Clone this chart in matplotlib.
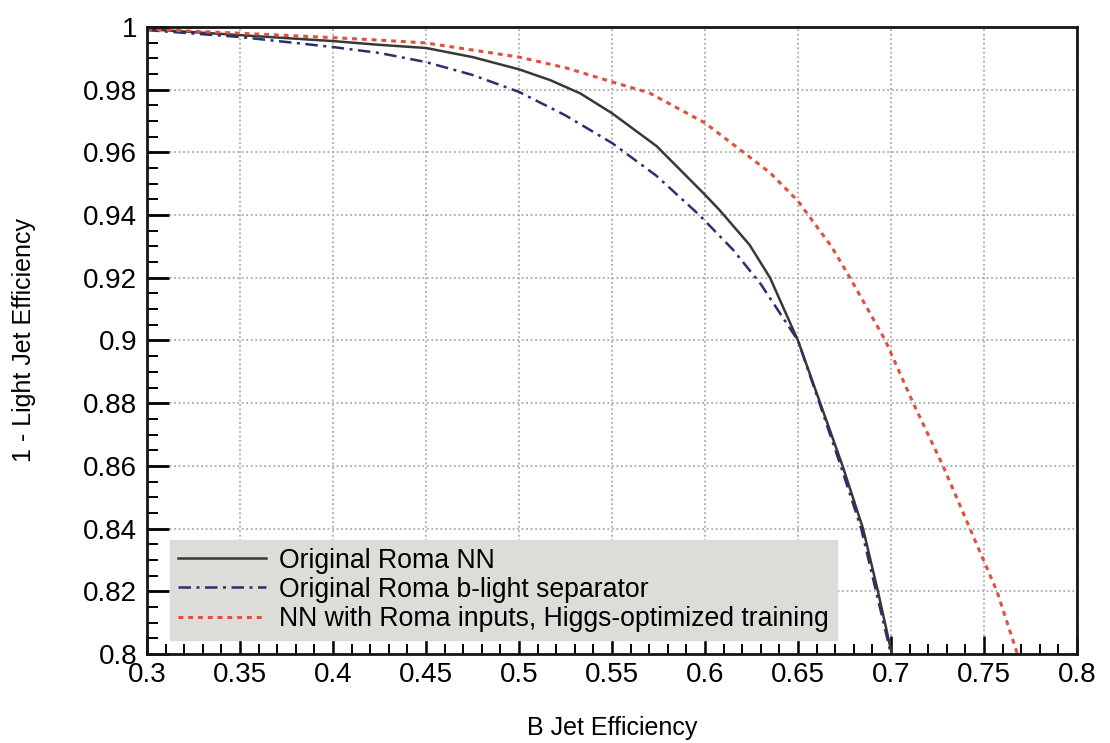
import matplotlib
matplotlib.use("Agg")
import matplotlib.pyplot as plt
from matplotlib.ticker import MultipleLocator

plt.rcParams['font.family'] = ['Liberation Sans', 'DejaVu Sans']

# Original Roma NN (solid black)
nn_x = [0.30, 0.35, 0.40, 0.425, 0.45, 0.475, 0.50, 0.517, 0.533, 0.55, 0.574, 0.60, 0.608,
        0.624, 0.635, 0.65, 0.662, 0.674, 0.685, 0.693, 0.7005]
nn_y = [0.9993, 0.9974, 0.9955, 0.9943, 0.9933, 0.9904, 0.9865, 0.9830, 0.9788, 0.9725, 0.962, 0.9465, 0.9415,
        0.9305, 0.920, 0.900, 0.880, 0.860, 0.840, 0.820, 0.800]

# Original Roma b-light separator (dash-dot blue)
sep_x = [0.30, 0.35, 0.40, 0.425, 0.45, 0.475, 0.50, 0.525, 0.55, 0.574, 0.597, 0.615, 0.630, 0.650,
         0.661, 0.673, 0.684, 0.692, 0.700]
sep_y = [0.999, 0.9968, 0.9936, 0.9917, 0.9888, 0.9847, 0.9793, 0.9718, 0.963, 0.9525, 0.940, 0.929, 0.918, 0.900,
         0.881, 0.860, 0.840, 0.820, 0.800]

# NN with Roma inputs, Higgs-optimized training (dotted red)
hig_x = [0.30, 0.35, 0.40, 0.425, 0.45, 0.50, 0.525, 0.55, 0.57, 0.60, 0.619, 0.635, 0.65, 0.668,
         0.678, 0.697, 0.712, 0.728, 0.7425, 0.757, 0.768]
hig_y = [0.9993, 0.998, 0.9966, 0.9958, 0.9949, 0.9904, 0.9870, 0.9825, 0.979, 0.9694, 0.9608, 0.9535, 0.9445, 0.930,
         0.920, 0.900, 0.880, 0.860, 0.840, 0.820, 0.800]

fig = plt.figure(figsize=(11.1, 7.43), dpi=100)
ax = fig.add_axes([0.1324, 0.1198, 0.8378, 0.8439])

ax.plot(nn_x, nn_y, color='#353a35', lw=1.8, label='Original Roma NN')
ax.plot(sep_x, sep_y, color='#2c2f6e', lw=1.8, linestyle=(0, (5, 2.2, 1.2, 2.2)),
        label='Original Roma b-light separator')
ax.plot(hig_x, hig_y, color='#e0503c', lw=2.2, linestyle=(0, (1.6, 1.6)),
        label='NN with Roma inputs, Higgs-optimized training')

ax.set_xlim(0.3, 0.8)
ax.set_ylim(0.8, 1.0)
ax.xaxis.set_major_locator(MultipleLocator(0.05))
ax.xaxis.set_minor_locator(MultipleLocator(0.01))
ax.yaxis.set_major_locator(MultipleLocator(0.02))
ax.yaxis.set_minor_locator(MultipleLocator(0.005))
fmt = plt.FuncFormatter(lambda v, p: '%g' % round(v, 3))
ax.xaxis.set_major_formatter(fmt)
ax.yaxis.set_major_formatter(fmt)

ax.tick_params(axis='x', which='major', direction='in', length=13, width=1.8,
               labelsize=20, pad=6)
ax.tick_params(axis='x', which='minor', direction='in', length=7, width=1.4)
ax.tick_params(axis='y', which='major', direction='in', length=16, width=2.0,
               labelsize=20, pad=7)
ax.tick_params(axis='y', which='minor', direction='in', length=8, width=1.4)
for s in ax.spines.values():
    s.set_linewidth(2.0)
    s.set_color('#151515')

ax.grid(True, which='major', color='#aaaaaa', linestyle=(0, (1, 1.5)), linewidth=1.3)
ax.set_axisbelow(True)

ax.set_xlabel('B Jet Efficiency', fontsize=18, labelpad=20)
ax.set_ylabel('1 - Light Jet Efficiency', fontsize=18, labelpad=34)

leg = ax.legend(loc='lower left', bbox_to_anchor=(0.0247, 0.0223), borderaxespad=0,
                fontsize=19.2, frameon=True, fancybox=False, handlelength=3.3,
                borderpad=0.3, labelspacing=0.12, handletextpad=0.5)
leg.get_frame().set_facecolor('#dcdcd8')
leg.get_frame().set_edgecolor('#dcdcd8')
leg.get_frame().set_alpha(1.0)

fig.savefig('out.png', dpi=100)
